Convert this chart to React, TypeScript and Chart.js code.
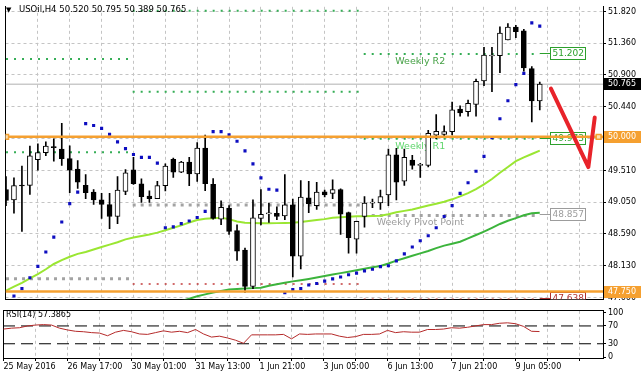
import React, { useEffect, useRef } from "react";
import { Chart, registerables } from "chart.js";

Chart.register(...registerables);

const FONT = "'DejaVu Sans', sans-serif";

// ---------- data ----------
const symbolTitle = "USOil,H4";
const xLabels = ["25 May 2016", "26 May 17:00", "30 May 01:00", "31 May 13:00", "1 Jun 21:00", "3 Jun 05:00", "6 Jun 13:00", "7 Jun 21:00", "9 Jun 05:00"];
const priceTicks = [51.82, 51.36, 50.9, 50.44, 49.98, 49.51, 49.05, 48.59, 48.13, 47.66];
const rsiTicks = [100, 70, 30, 0];
const rsiLevels = [70, 30];

const opens = [49.234, 49.084, 49.29, 49.294, 49.669, 49.771, 49.85, 49.823, 49.683, 49.529, 49.294, 49.196, 49.084, 49.014, 48.841, 49.206, 49.519, 49.318, 49.14, 49.102, 49.29, 49.673, 49.487, 49.631, 49.459, 49.837, 49.308, 48.803, 48.962, 48.635, 48.354, 47.825, 48.813, 48.88, 48.888, 48.85, 49.01, 48.266, 49.112, 49.0, 49.2, 49.178, 49.234, 48.897, 48.513, 48.841, 49.035, 49.038, 49.154, 49.739, 49.355, 49.663, 49.585, 49.585, 50.024, 50.034, 50.076, 50.403, 50.365, 50.469, 50.814, 51.175, 51.179, 51.409, 51.595, 51.539, 50.992, 50.52];
const highs = [49.421, 49.403, 49.575, 49.865, 49.898, 49.926, 49.972, 50.197, 49.87, 49.655, 49.449, 49.234, 49.178, 49.178, 49.421, 49.523, 49.701, 49.388, 49.214, 49.351, 49.607, 49.692, 49.645, 49.701, 49.916, 50.024, 49.393, 49.07, 49.0, 48.719, 48.382, 49.084, 49.234, 49.038, 48.982, 49.449, 49.094, 49.365, 49.351, 49.337, 49.224, 49.374, 49.243, 48.906, 48.775, 49.13, 49.094, 49.224, 49.823, 49.832, 49.823, 49.729, 49.613, 50.094, 50.323, 50.16, 50.505, 50.449, 50.533, 50.838, 51.301, 51.301, 51.6, 51.647, 51.619, 51.563, 51.02, 50.795];
const lows = [49.0, 48.888, 48.625, 49.164, 49.515, 49.725, 49.645, 49.585, 49.186, 49.248, 49.102, 49.018, 48.813, 48.663, 48.737, 49.158, 49.308, 49.046, 49.046, 49.1, 49.214, 49.411, 49.477, 49.29, 49.351, 49.217, 48.803, 48.723, 48.579, 48.204, 47.737, 47.793, 48.719, 48.757, 48.794, 48.794, 47.962, 48.078, 48.897, 48.944, 49.126, 49.102, 48.579, 48.308, 48.308, 48.687, 48.968, 48.944, 49.0, 49.084, 49.294, 49.529, 49.411, 49.561, 49.972, 50.01, 50.028, 50.3, 50.3, 50.3, 50.744, 50.655, 50.932, 51.409, 51.441, 50.954, 50.216, 50.389];
const closes = [49.074, 49.29, 49.285, 49.725, 49.771, 49.865, 49.842, 49.683, 49.515, 49.341, 49.186, 49.084, 49.018, 48.841, 49.224, 49.477, 49.318, 49.13, 49.102, 49.29, 49.575, 49.487, 49.631, 49.459, 49.837, 49.318, 48.813, 48.976, 48.625, 48.336, 47.825, 48.822, 48.874, 48.886, 48.841, 49.01, 48.266, 49.122, 49.028, 49.196, 49.154, 49.234, 48.874, 48.533, 48.771, 49.038, 49.04, 49.13, 49.739, 49.341, 49.701, 49.585, 49.59, 50.052, 50.08, 50.076, 50.393, 50.347, 50.487, 50.805, 51.188, 51.182, 51.507, 51.595, 51.529, 51.002, 50.52, 50.765];

const sar = [null, 47.685, 47.793, 47.95, 48.116, 48.326, 48.541, 48.761, 49.028, 49.196, 50.192, 50.164, 50.122, 50.038, 49.926, 49.828, 49.743, 49.701, 49.701, 49.617, 48.677, 48.691, 48.737, 48.775, 48.827, 48.916, 50.076, 50.076, 50.028, 49.936, 49.795, 49.607, 49.403, 49.238, 49.224, 47.733, 47.779, 47.793, 47.845, 47.868, 47.901, 47.934, 47.962, 47.994, 48.018, 48.05, 48.074, 48.112, 48.126, 48.196, 48.298, 48.397, 48.488, 48.561, 48.677, 48.841, 49.0, 49.178, 49.332, 49.5, 49.715, 49.986, 50.262, 50.525, 50.758, 50.922, 51.656, 51.609];

const maFast = [47.765, 47.821, 47.877, 47.941, 48.004, 48.074, 48.151, 48.207, 48.256, 48.298, 48.326, 48.362, 48.397, 48.432, 48.467, 48.509, 48.537, 48.558, 48.579, 48.607, 48.642, 48.677, 48.712, 48.754, 48.789, 48.81, 48.817, 48.824, 48.803, 48.768, 48.752, 48.747, 48.742, 48.742, 48.745, 48.747, 48.75, 48.761, 48.775, 48.789, 48.803, 48.824, 48.831, 48.838, 48.845, 48.845, 48.85, 48.852, 48.873, 48.902, 48.923, 48.944, 48.972, 49.0, 49.028, 49.056, 49.091, 49.133, 49.182, 49.238, 49.308, 49.386, 49.477, 49.561, 49.645, 49.701, 49.75, 49.8];

const maSlow = [null, null, null, null, null, null, null, null, null, null, null, null, null, null, null, null, null, null, null, null, null, null, 47.611, 47.646, 47.681, 47.709, 47.737, 47.758, 47.779, 47.786, 47.793, 47.8, 47.807, 47.835, 47.856, 47.877, 47.898, 47.915, 47.934, 47.955, 47.976, 47.997, 48.018, 48.039, 48.06, 48.081, 48.102, 48.123, 48.158, 48.2, 48.235, 48.27, 48.305, 48.34, 48.382, 48.418, 48.446, 48.474, 48.523, 48.572, 48.621, 48.677, 48.733, 48.78, 48.817, 48.86, 48.888, 48.895];

const rsi = [63, 65, 66, 70, 72, 73, 72, 65, 61, 58, 57, 55, 54, 48, 56, 60, 57, 52, 51, 55, 59, 56, 58, 55, 62, 52, 45, 47, 43, 38, 31, 50, 50, 50, 50, 51, 41, 52, 51, 52, 52, 52, 47, 44, 46, 51, 51, 52, 60, 55, 57, 56, 56, 62, 62, 63, 66, 65, 67, 70, 73, 73, 76, 77, 75, 69, 58, 57.3865];

// weekly pivot levels (bar-index span of each week, then its levels)
const weekBounds = [[-1, 15.45], [15.9, 44.45], [44.9, 67]];
const weekLevels = [[51.132, 49.776, 47.938], [51.834, 50.655, 49.01, 47.859], [51.202, 49.973, 48.857, 47.638]];
const weekKinds = [["R", "R", "P"], ["R", "R", "P", "S"], ["R", "R", "P", "S"]];
const weekNames = ["Weekly R2", "Weekly R1", "Weekly Pivot Point", "Weekly S1"];

// user horizontal lines
const hLines = [50.0, 47.75];

// hand-drawn red arrow (bar index, price)
const arrowX = [68.4, 73.1, 73.9];
const arrowY = [50.7, 49.56, 50.28];

// ---------- styles ----------
const ORANGE = "#f5a030";
const GRID = "#c4c4c4";
const LEVEL_STYLE: any = {
  R: { color: "#34ad55", width: 2, dash: [2, 6] },
  P: { color: "#a3a3a3", width: 3, dash: [3, 5] },
  S: { color: "#c23b3b", width: 1.5, dash: [2, 6] },
};
const NAME_COLORS = ["#45a045", "#5fd56c", "#9c9c9c", "#c23b3b"];
const BOX_COLORS: any = { R: "#2ca02c", P: "#9c9c9c", S: "#b03030" };

const N = closes.length;
const X_MIN = -0.0625;
const X_MAX = X_MIN + 75;
const Y_MAX = 51.89;
const Y_MIN = 47.639;
const gridTicks: number[] = [];
for (let k = 0; k <= 72; k += 4) gridTicks.push(k);

const xScaleBase = (): any => ({
  type: "linear",
  min: X_MIN,
  max: X_MAX,
  offset: false,
  bounds: "data",
  afterBuildTicks: (s: any) => {
    s.ticks = gridTicks.map((v) => ({ value: v }));
  },
  grid: {
    offset: false,
    color: (c: any) => (c.tick && c.tick.value === 0 ? "rgba(0,0,0,0)" : GRID),
    lineWidth: 1,
  },
  border: { display: true, color: "#000", width: 1, dash: [3, 3] },
});

const leftEdge = (): any => ({
  type: "linear",
  position: "left",
  display: true,
  ticks: { display: false },
  grid: { display: false },
  border: { display: true, color: "#000", width: 1 },
  afterFit: (s: any) => {
    s.width = 3;
  },
});

const pts = (arr: (number | null)[]) =>
  arr.map((v, i) => (v == null ? null : { x: i, y: v })).filter((p) => p !== null);

function buildMainConfig(): any {
  const datasets: any[] = [];
  weekLevels.forEach((lv, w) =>
    lv.forEach((v, j) => {
      const st = LEVEL_STYLE[weekKinds[w][j]];
      datasets.push({
        type: "line",
        data: [
          { x: weekBounds[w][0], y: v },
          { x: weekBounds[w][1], y: v },
        ],
        borderColor: st.color,
        borderWidth: st.width,
        borderDash: st.dash,
        pointRadius: 0,
        order: 20,
        clip: 0,
      });
    })
  );
  datasets.push({
    type: "line",
    data: [
      { x: X_MIN, y: closes[N - 1] },
      { x: X_MAX, y: closes[N - 1] },
    ],
    borderColor: "#b0b0b0",
    borderWidth: 1,
    pointRadius: 0,
    order: 19,
    clip: 0,
  });
  datasets.push({
    type: "line",
    data: pts(maSlow),
    borderColor: "#3cb43c",
    borderWidth: 2,
    pointRadius: 0,
    order: 12,
    clip: 0,
  });
  datasets.push({
    type: "line",
    data: pts(maFast),
    borderColor: "#9ae632",
    borderWidth: 2,
    pointRadius: 0,
    order: 11,
    clip: 0,
  });
  datasets.push({
    type: "scatter",
    data: pts(sar),
    pointStyle: "rect",
    pointRadius: 2.2,
    backgroundColor: "#0d0dc0",
    borderWidth: 0,
    order: 10,
    clip: 0,
  });
  datasets.push({
    type: "bar",
    data: closes.map((_, i) => ({ x: i, y: [lows[i], highs[i]] })),
    backgroundColor: "#000",
    borderWidth: 0,
    barThickness: 1,
    grouped: false,
    order: 6,
    clip: 0,
  });
  datasets.push({
    type: "bar",
    data: closes.map((c, i) => ({ x: i, y: [opens[i], c] })),
    backgroundColor: closes.map((c, i) => (c > opens[i] ? "#ffffff" : "#000000")),
    borderColor: "#000",
    borderWidth: 1,
    borderSkipped: false,
    barThickness: 5,
    minBarLength: 1,
    grouped: false,
    order: 5,
    clip: 0,
  });
  hLines.forEach((v) =>
    datasets.push({
      type: "line",
      data: [
        { x: X_MIN, y: v },
        { x: X_MAX, y: v },
      ],
      borderColor: ORANGE,
      borderWidth: 2.5,
      pointRadius: 0,
      order: 3,
      clip: 0,
    })
  );
  datasets.push({
    type: "scatter",
    data: [
      { x: X_MIN + 0.08, y: hLines[0] },
      { x: X_MAX - 0.55, y: hLines[0] },
    ],
    pointStyle: "rect",
    pointRadius: 3.4,
    backgroundColor: "#fde0b0",
    borderColor: ORANGE,
    borderWidth: 1.5,
    order: 2,
    clip: 0,
  });
  datasets.push({
    type: "line",
    data: arrowX.map((x, i) => ({ x, y: arrowY[i] })),
    borderColor: "#e8232a",
    borderWidth: 4,
    borderCapStyle: "round",
    borderJoinStyle: "round",
    pointRadius: 0,
    order: 1,
    clip: 0,
  });

  const decor = {
    id: "mainDecor",
    beforeDatasetsDraw(chart: any) {
      const { ctx, chartArea: a, scales } = chart;
      const x = scales.x;
      const y = scales.y;
      const w = weekLevels.length - 1;
      ctx.save();
      ctx.beginPath();
      ctx.rect(a.left, a.top, a.right - a.left, a.bottom - a.top);
      ctx.clip();
      // level names
      ctx.font = `9.5px ${FONT}`;
      ctx.textAlign = "center";
      ctx.textBaseline = "middle";
      weekLevels[w].forEach((v, j) => {
        ctx.fillStyle = NAME_COLORS[j];
        ctx.fillText(weekNames[j], x.getPixelForValue(52), y.getPixelForValue(v) + 7.5);
      });
      // value boxes
      const endPx = x.getPixelForValue(weekBounds[w][1]);
      const bx = Math.round(endPx + 10) + 0.5;
      ctx.font = `9px ${FONT}`;
      ctx.textAlign = "left";
      weekLevels[w].forEach((v, j) => {
        const col = BOX_COLORS[weekKinds[w][j]];
        const py = Math.round(y.getPixelForValue(v)) - 0.5;
        ctx.strokeStyle = col;
        ctx.lineWidth = 1;
        ctx.beginPath();
        ctx.moveTo(endPx, py);
        ctx.lineTo(bx, py);
        ctx.stroke();
        ctx.fillStyle = "#fff";
        ctx.fillRect(bx, py - 6, 35, 12);
        ctx.strokeRect(bx, py - 6, 35, 12);
        ctx.fillStyle = col;
        ctx.fillText(v.toFixed(3), bx + 2, py + 0.5);
      });
      ctx.restore();
    },
    afterDraw(chart: any) {
      const { ctx, chartArea: a, scales } = chart;
      const y = scales.y;
      ctx.save();
      const badge = (v: number, bg: string, fg: string) => {
        const py = Math.round(y.getPixelForValue(v));
        ctx.fillStyle = bg;
        ctx.fillRect(a.right + 1, py - 6, chart.width - a.right - 3, 12);
        ctx.fillStyle = fg;
        ctx.font = `8px ${FONT}`;
        ctx.textAlign = "left";
        ctx.textBaseline = "middle";
        ctx.fillText(v.toFixed(3), a.right + 5, py);
      };
      badge(closes[N - 1], "#000", "#fff");
      hLines.forEach((v) => badge(v, ORANGE, "#fff"));
      // header
      ctx.fillStyle = "#000";
      ctx.textBaseline = "middle";
      ctx.textAlign = "left";
      ctx.font = `7px ${FONT}`;
      ctx.fillText("▼", 6, 10);
      ctx.font = `8.5px ${FONT}`;
      const hdr = [symbolTitle, opens[N - 1], highs[N - 1], lows[N - 1], closes[N - 1]]
        .map((v) => (typeof v === "number" ? v.toFixed(3) : v))
        .join(" ");
      ctx.fillText(hdr, 19, 10);
      ctx.restore();
    },
  };

  return {
    type: "bar",
    data: { datasets },
    options: {
      responsive: false,
      animation: false,
      events: [],
      layout: { padding: { left: 0, right: 0, top: 0, bottom: 3 } },
      plugins: { legend: { display: false }, tooltip: { enabled: false } },
      scales: {
        x: {
          ...xScaleBase(),
          ticks: { display: false },
          grid: { ...xScaleBase().grid, drawTicks: false },
          afterFit: (s: any) => {
            s.height = 0;
          },
        },
        y: {
          type: "linear",
          position: "right",
          min: Y_MIN,
          max: Y_MAX,
          bounds: "data",
          afterBuildTicks: (s: any) => {
            s.ticks = priceTicks.map((v) => ({ value: v }));
          },
          afterFit: (s: any) => {
            s.width = 40;
          },
          ticks: {
            font: { family: FONT, size: 8 },
            color: "#000",
            padding: 2,
            callback: (v: any) => Number(v).toFixed(3),
          },
          grid: { color: GRID, tickColor: "#000", tickLength: 3, drawTicks: true },
          border: { display: true, color: "#000", width: 1, dash: [3, 3] },
        },
        yL: leftEdge(),
      },
    },
    plugins: [decor],
  };
}

function buildRsiConfig(): any {
  const datasets: any[] = [
    {
      type: "line",
      data: pts(rsi),
      borderColor: "#b52a2a",
      borderWidth: 1,
      pointRadius: 0,
      order: 1,
      clip: 0,
    },
    ...rsiLevels.map((v) => ({
      type: "line",
      data: [
        { x: X_MIN, y: v },
        { x: X_MAX, y: v },
      ],
      borderColor: "#000",
      borderWidth: 1,
      borderDash: [12, 6],
      pointRadius: 0,
      order: 2,
      clip: 0,
    })),
  ];
  const decor = {
    id: "rsiDecor",
    afterDraw(chart: any) {
      const { ctx } = chart;
      ctx.save();
      ctx.fillStyle = "#000";
      ctx.font = `8px ${FONT}`;
      ctx.textAlign = "left";
      ctx.textBaseline = "middle";
      ctx.fillText(`RSI(14) ${rsi[N - 1].toFixed(4)}`, 6, 11);
      ctx.restore();
    },
  };
  return {
    type: "line",
    data: { datasets },
    options: {
      responsive: false,
      animation: false,
      events: [],
      layout: { padding: { left: 0, right: 0, top: 1, bottom: 0 } },
      plugins: { legend: { display: false }, tooltip: { enabled: false } },
      scales: {
        x: {
          ...xScaleBase(),
          position: "bottom",
          ticks: {
            display: true,
            autoSkip: false,
            minRotation: 0,
            maxRotation: 0,
            align: "start",
            padding: 1,
            font: { family: FONT, size: 8 },
            color: "#000",
            callback: (v: any) => {
              const i = Number(v) / 8;
              return Number.isInteger(i) && i < xLabels.length ? xLabels[i] : "";
            },
          },
          grid: { ...xScaleBase().grid, drawTicks: true, tickLength: 3, tickColor: "#000" },
          afterFit: (s: any) => {
            s.height = 20;
          },
        },
        xTop: {
          type: "linear",
          position: "top",
          display: true,
          ticks: { display: false },
          grid: { display: false },
          border: { display: true, color: "#000", width: 1 },
          afterFit: (s: any) => {
            s.height = 0;
          },
        },
        y: {
          type: "linear",
          position: "right",
          min: -2,
          max: 104,
          bounds: "data",
          afterBuildTicks: (s: any) => {
            s.ticks = rsiTicks.map((v) => ({ value: v }));
          },
          afterFit: (s: any) => {
            s.width = 40;
          },
          ticks: { font: { family: FONT, size: 8 }, color: "#000", padding: 2 },
          grid: { drawOnChartArea: false, tickColor: "#000", tickLength: 3 },
          border: { display: true, color: "#000", width: 1 },
        },
        yL: leftEdge(),
      },
    },
    plugins: [decor],
  };
}

export default function App() {
  const mainRef = useRef<HTMLCanvasElement | null>(null);
  const rsiRef = useRef<HTMLCanvasElement | null>(null);

  useEffect(() => {
    document.body.style.margin = "0";
    const main = new Chart(mainRef.current as HTMLCanvasElement, buildMainConfig());
    const sub = new Chart(rsiRef.current as HTMLCanvasElement, buildRsiConfig());
    return () => {
      main.destroy();
      sub.destroy();
    };
  }, []);

  return (
    <div style={{ position: "fixed", left: 0, top: 0, width: 643, height: 378, background: "#fff", overflow: "hidden" }}>
      <canvas ref={mainRef} width={643} height={306} style={{ position: "absolute", left: 0, top: 0, width: 643, height: 306 }} />
      <div style={{ position: "absolute", left: 0, top: 304, width: 643, height: 74, background: "#fff" }}>
        <canvas ref={rsiRef} width={643} height={74} style={{ display: "block", width: 643, height: 74 }} />
      </div>
    </div>
  );
}
